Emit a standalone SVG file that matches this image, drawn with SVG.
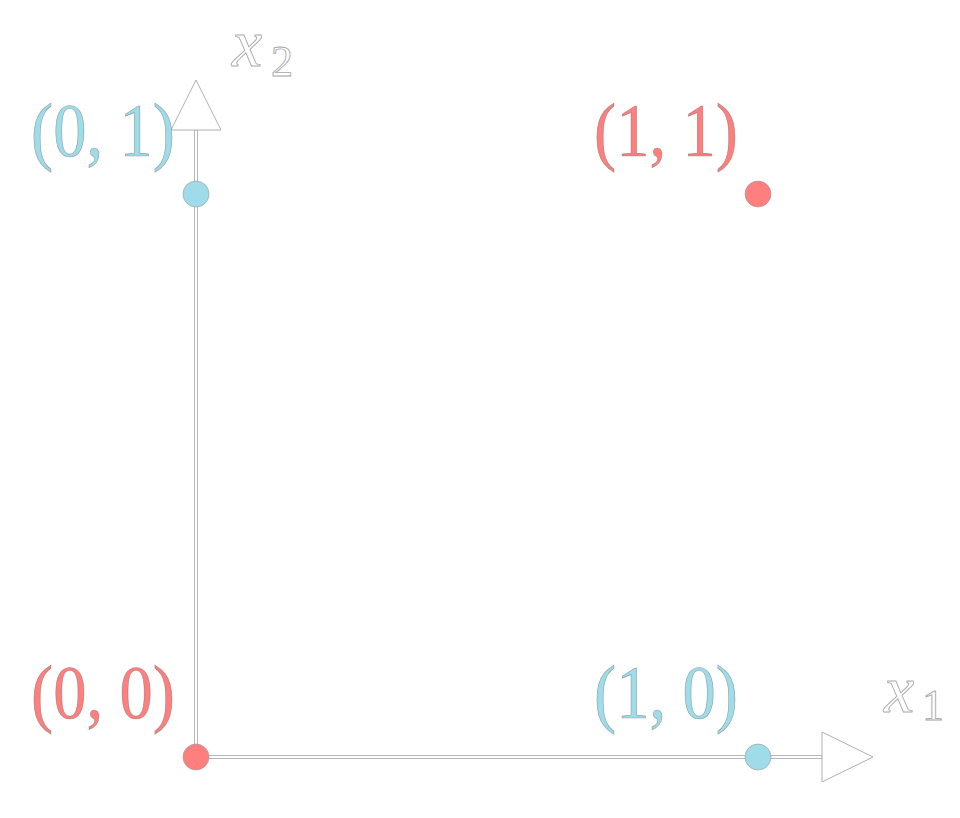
<svg xmlns="http://www.w3.org/2000/svg" width="960" height="818" viewBox="0 0 960 818">
<style>
.axis{fill:#fff;stroke:#b8b8b8;stroke-width:1}
.arrow{fill:#fff;stroke:#b0b0b0;stroke-width:1}
.pt{stroke:#999;stroke-width:0.6}
.red{fill:#ff7f7f}
.blue{fill:#9fdce9}
.lbl{font-family:"Liberation Serif","Times New Roman",serif;font-size:77px;text-anchor:middle;stroke:#666;stroke-opacity:0.55;stroke-width:0.7}
.ax{font-family:"Liberation Serif","Times New Roman",serif;fill:#fff;stroke:#a8a8a8;stroke-width:0.9}
</style>
<rect width="960" height="818" fill="#fff"/>
<g id="connectors">
<rect class="axis" x="194.5" y="130" width="3" height="628.5"/>
<polygon class="arrow" points="196,80 221,130 171,130"/>
<rect class="axis" x="196" y="755.5" width="626" height="3"/>
<polygon class="arrow" points="873,757 822,782 822,732"/>
</g>
<g id="axis-x1">
<text class="ax" x="884" y="712" font-size="68" font-style="italic">x</text>
<text class="ax" x="922" y="720" font-size="44">1</text>
</g>
<g id="axis-x2">
<text class="ax" x="232" y="66" font-size="68" font-style="italic">x</text>
<text class="ax" x="271" y="76" font-size="44">2</text>
</g>
<g id="p00">
<circle class="pt red" cx="196" cy="757" r="13"/>
<text class="lbl red" x="103" y="718" textLength="144" lengthAdjust="spacingAndGlyphs">(0, 0)</text>
</g>
<g id="p10">
<circle class="pt blue" cx="758" cy="757" r="13"/>
<text class="lbl blue" x="666" y="718" textLength="144" lengthAdjust="spacingAndGlyphs">(1, 0)</text>
</g>
<g id="p01">
<circle class="pt blue" cx="196" cy="194" r="13"/>
<text class="lbl blue" x="103" y="156" textLength="144" lengthAdjust="spacingAndGlyphs">(0, 1)</text>
</g>
<g id="p11">
<circle class="pt red" cx="758" cy="194" r="13"/>
<text class="lbl red" x="666" y="156" textLength="144" lengthAdjust="spacingAndGlyphs">(1, 1)</text>
</g>
</svg>
